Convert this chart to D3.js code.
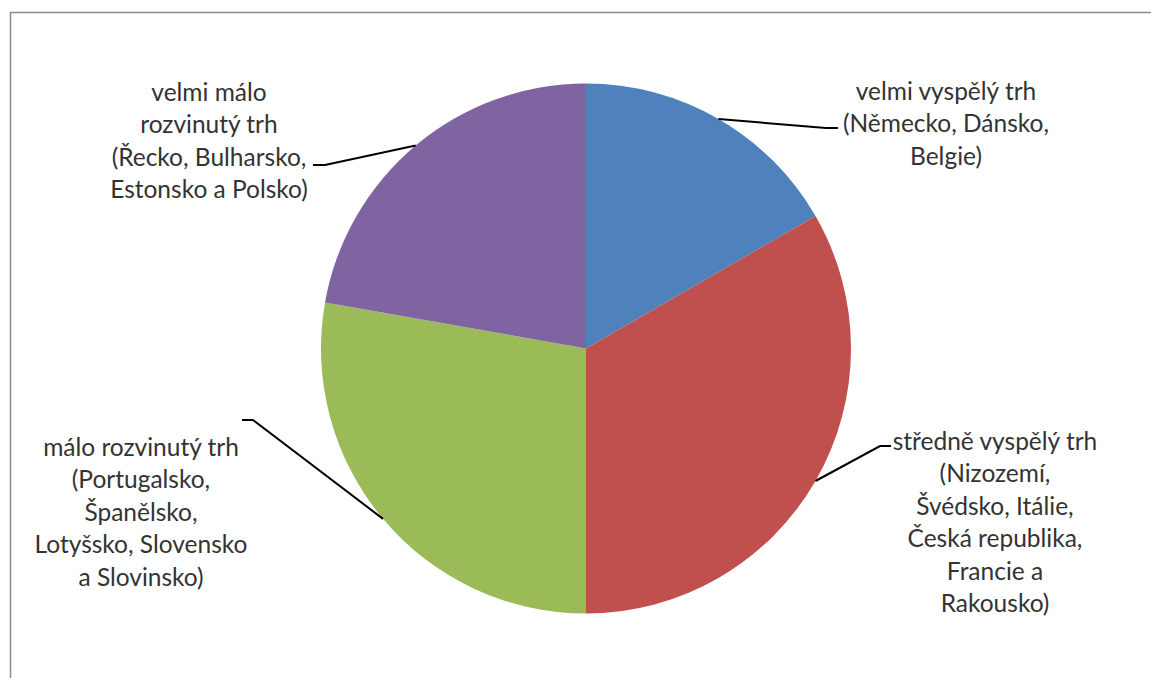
<!DOCTYPE html>
<html>
<head>
<meta charset="utf-8">
<script src="https://cdn.jsdelivr.net/npm/d3@7"></script>
<style>
  html, body { margin: 0; padding: 0; background: #fff; }
  svg { display: block; }
</style>
</head>
<body>
<div id="chart"></div>
<script>
// data: number of countries in each market group
const categories = ["velmi vyspělý trh", "středně vyspělý trh", "málo rozvinutý trh", "velmi málo rozvinutý trh"];
const values = [3, 6, 5, 4];
const labelLines = [
    ["velmi vyspělý trh", "(Německo, Dánsko,", "Belgie)"],
    ["středně vyspělý trh", "(Nizozemí,", "Švédsko, Itálie,", "Česká republika,", "Francie a", "Rakousko)"],
    ["málo rozvinutý trh", "(Portugalsko,", "Španělsko,", "Lotyšsko, Slovensko", "a Slovinsko)"],
    ["velmi málo", "rozvinutý trh", "(Řecko, Bulharsko,", "Estonsko a Polsko)"]
];
const colors = ["#4F81BD", "#C0504D", "#9BBB59", "#8064A2"];

const W = 1151, H = 678;
const CX = 586, CY = 348.5, R = 265;
const LINE_H = 32.5;

// label layout: text centre x, first line y, leader elbow and end
const labelLayout = [
    { x: 946, y: 91,  elbow: [826, 128], end: [838, 128] },
    { x: 995, y: 441, elbow: [880, 446], end: [891, 446] },
    { x: 141, y: 447, elbow: [253, 420], end: [242, 420] },
    { x: 209, y: 92,  elbow: [325, 165], end: [313, 165] }
];

const svg = d3.select("#chart").append("svg")
    .attr("width", W).attr("height", H);

// frame (cropped at right and bottom)
svg.append("path")
    .attr("d", `M10.5,${H} V12.5 H${W}`)
    .attr("fill", "none")
    .attr("stroke", "#8a8a8a")
    .attr("stroke-width", 1.5);

const pie = d3.pie().sort(null).value(d => d);
const arcs = pie(values);
const arc = d3.arc().innerRadius(0).outerRadius(R);

const g = svg.append("g").attr("transform", `translate(${CX},${CY})`);

g.selectAll("path.slice")
    .data(arcs)
    .join("path")
    .attr("class", "slice")
    .attr("d", arc)
    .attr("fill", (d, i) => colors[i]);

// leader lines from slice mid-edge to label
const edgePoint = d => {
    const a = (d.startAngle + d.endAngle) / 2;
    return [CX + R * Math.sin(a), CY - R * Math.cos(a)];
};

svg.append("g").selectAll("polyline")
    .data(arcs)
    .join("polyline")
    .attr("points", (d, i) => {
        const p = edgePoint(d);
        const L = labelLayout[i];
        return [p, L.elbow, L.end].map(q => q.join(",")).join(" ");
    })
    .attr("fill", "none")
    .attr("stroke", "#000")
    .attr("stroke-width", 2);

const labels = svg.append("g")
    .style("font-family", "Lato, 'Open Sans', sans-serif")
    .style("font-size", "24.5px")
    .attr("fill", "#333")
    .attr("text-anchor", "middle");

labels.selectAll("text")
    .data(arcs)
    .join("text")
    .attr("data-category", (d, i) => categories[i])
    .each(function(d, i) {
        const L = labelLayout[i];
        d3.select(this).selectAll("tspan")
            .data(labelLines[i])
            .join("tspan")
            .attr("x", L.x)
            .attr("y", (t, j) => L.y + j * LINE_H)
            .attr("dy", "0.35em")
            .text(t => t);
    });
</script>
</body>
</html>
